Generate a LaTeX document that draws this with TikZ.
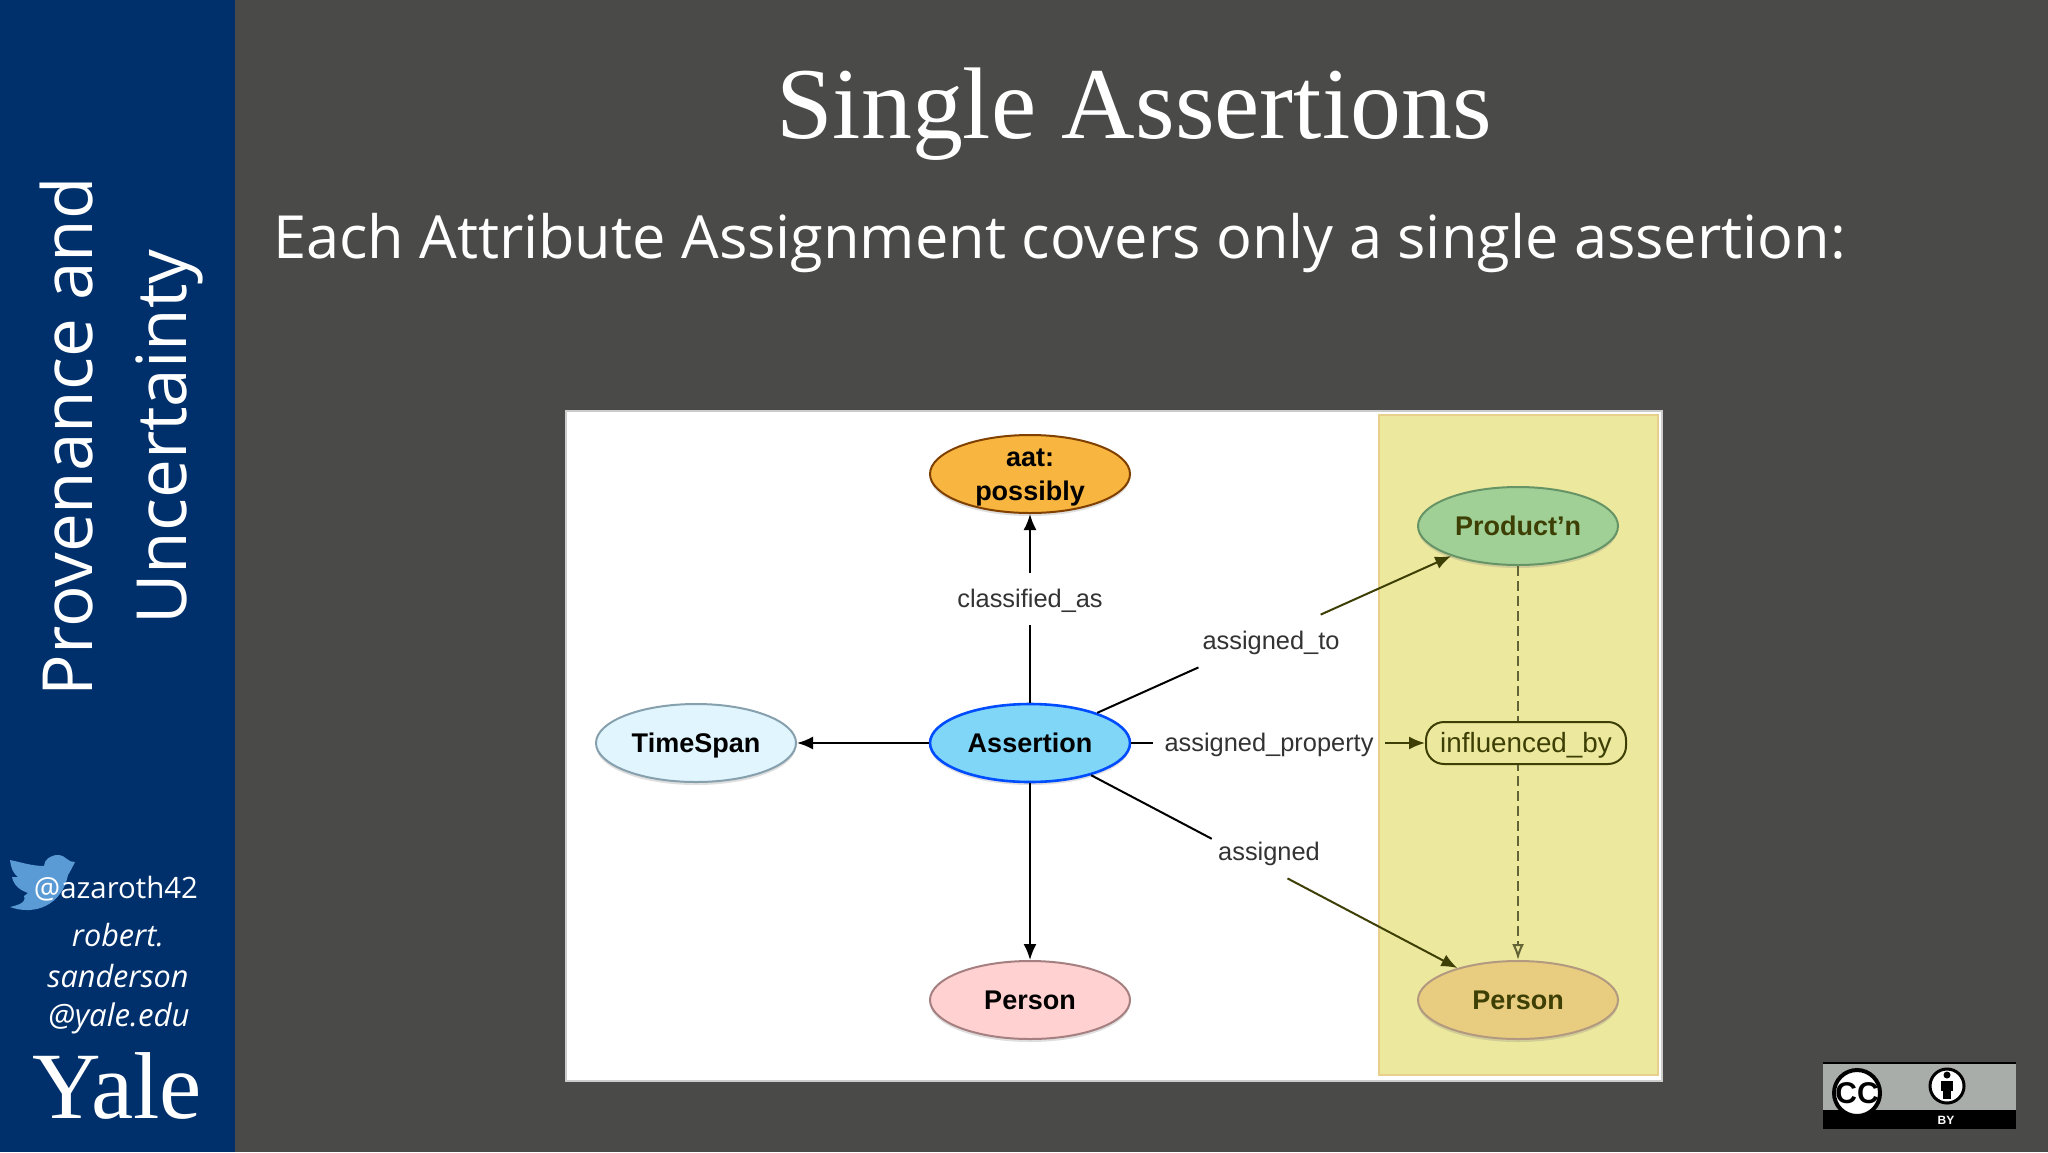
\documentclass[tikz,border=0pt]{standalone}
\usepackage{fontspec}
\usepackage{xcolor}
\usetikzlibrary{shapes.geometric,arrows.meta,shadows}
\setmainfont{Open Sans}
\newfontfamily\titlefont{Liberation Serif}
\newfontfamily\dicofont{Liberation Sans}
\definecolor{slidegrey}{HTML}{4A4B49}
\definecolor{yalenavy}{HTML}{00306B}
\definecolor{birdblue}{HTML}{5B9BD5}
\definecolor{panelyellow}{HTML}{ECE89E}
\definecolor{paneledge}{HTML}{E8CF8C}
\definecolor{oliveink}{HTML}{3D3F05}
\definecolor{aatorange}{HTML}{F8B53F}
\definecolor{prodgreen}{HTML}{A0D096}
\definecolor{persontan}{HTML}{E8CD80}
\definecolor{badgegrey}{HTML}{A9ADA9}
\tikzset{
  ovalbase/.style={ellipse, draw, line width=1pt, minimum width=100pt, minimum height=39pt, inner sep=0pt,
    align=center, font=\dicofont\bfseries\fontsize{13.5}{17}\selectfont, drop shadow={shadow xshift=0pt, shadow yshift=-1.5pt, opacity=.25}},
  oval/.style={ovalbase, text height=9.7pt, text depth=0pt},
  edgelabel/.style={font=\dicofont\fontsize{12.7}{15}\selectfont, text=black!80, text height=8pt, text depth=0pt, inner xsep=3pt, inner ysep=9pt},
  link/.style={line width=1pt, -{Latex[length=8pt, width=6.5pt]}},
  linkolive/.style={link, draw=oliveink, -{Latex[length=8pt, width=6.5pt]}}
}
\begin{document}
\begin{tikzpicture}[x=.5pt, y=-.5pt]
\useasboundingbox (0, 0) rectangle (2048, 1152);
\fill [slidegrey] (0, 0) rectangle (2048, 1152);
\fill [yalenavy] (0, 0) rectangle (235, 1152);
%sidebar
\draw (122, 437) node [rotate=90, align=center, text=white, font=\fontsize{34.6}{47}\selectfont] (sidetitle) {Provenance and\\Uncertainty};
\fill [birdblue] (75, 862) .. controls (68, 863) and (66, 855) .. (58, 855) .. controls (50, 855) and (44, 860) .. (44, 866)
  .. controls (32, 866) and (20, 862) .. (10, 860) .. controls (11, 868) and (13, 873) .. (18, 877) -- (12, 877)
  .. controls (14, 886) and (20, 890) .. (28, 893) -- (24, 896) .. controls (26, 900) and (24, 904) .. (10, 907)
  .. controls (35, 916) and (62, 905) .. (68, 875) .. controls (70, 872) and (73, 866) .. (75, 862) -- cycle;
\draw (116, 889) node [text=white, font=\fontsize{14.7}{18}\selectfont] (twitter) {@azaroth42};
\draw (118, 935) node [text=white, font=\itshape\fontsize{15.3}{18}\selectfont] (mailA) {robert.};
\draw (118, 976) node [text=white, font=\itshape\fontsize{15.3}{18}\selectfont] (mailB) {sanderson};
\draw (119, 1018) node [text=white, font=\itshape\fontsize{15.6}{18}\selectfont] (mailC) {@yale.edu};
\draw (117, 1118) node [anchor=base, text=white, font=\titlefont\fontsize{47.5}{50}\selectfont] (yale) {Yale};
%header
\draw (1134, 114) node [text=white, font=\titlefont\fontsize{50.9}{55}\selectfont] (title) {Single Assertions};
\draw (266, 243) node [anchor=west, text=white, font=\fontsize{29.75}{36}\selectfont] (subtitle) {Each Attribute Assignment covers only a single assertion:};
%figure
\filldraw [fill=white, draw=black!20, line width=1pt] (566, 411) rectangle (1662, 1081);
\filldraw [fill=panelyellow, draw=paneledge, line width=1pt] (1379, 415) rectangle (1658, 1075);
\draw (1030, 474) node [ovalbase, inner sep=-3.5pt, fill=aatorange, draw=black!50!orange] (aat) {\rule{0pt}{12.5pt}aat:\\possibly};
\draw (696, 743) node [oval, fill=cyan!12, draw=cyan!40!black!60] (timespan) {TimeSpan};
\draw (1030, 743) node [oval, fill=cyan!50, draw=blue!70!cyan, line width=1.3pt] (assertion) {Assertion};
\draw (1030, 1000) node [oval, fill=red!18, draw=red!30!black!50] (person) {Person};
\draw (1518, 526) node [oval, fill=prodgreen, draw=green!30!black!60, text=oliveink] (production) {Product’n};
\draw (1518, 1000) node [oval, fill=persontan, draw=orange!40!black!50, text=oliveink] (personB) {Person};
\draw [oliveink!80, line width=1pt, dash pattern=on 5pt off 2.5pt, -{Latex[open, length=8pt, width=6pt]}] (production) -- (personB);
\draw (1526, 743) node [rectangle, rounded corners=9pt, fill=panelyellow, draw=oliveink, line width=1pt, minimum width=100pt, minimum height=21pt, inner sep=0pt, text=oliveink, text height=9pt, text depth=0pt, font=\dicofont\fontsize{13.9}{16}\selectfont] (influenced) {influenced\_by};
\draw (1030, 599) node [edgelabel] (classified) {classified\_as};
\draw (1271, 641) node [edgelabel] (assignedto) {assigned\_to};
\draw (1269, 743) node [edgelabel, inner xsep=5.5pt] (assignedprop) {assigned\_property};
\draw (1269, 852) node [edgelabel] (assigned) {assigned};
\draw [line width=1pt] (assertion) -- (classified);
\draw [link] (classified) -- (aat);
\draw [link] (assertion) -- (timespan);
\draw [link] (assertion) -- (person);
\draw [line width=1pt] (assertion) -- (assignedto.200);
\draw [linkolive] (assignedto.28) -- (production);
\draw [line width=1pt] (assertion) -- (assignedprop);
\draw [linkolive] (assignedprop) -- (influenced);
\draw [line width=1pt] (assertion) -- (assigned.167);
\draw [linkolive] (assigned.-55) -- (personB);
%licence badge
\fill [badgegrey] (1823, 1063) rectangle (2016, 1110);
\draw [black, line width=1pt] (1823, 1063) -- (2016, 1063);
\fill [black] (1823, 1110) rectangle (2016, 1129);
\filldraw [fill=white, draw=black, line width=2pt] (1857, 1093) circle [radius=23];
\draw (1857, 1093) node [font=\dicofont\bfseries\fontsize{15}{15}\selectfont] (ccmark) {CC};
\filldraw [fill=white, draw=black, line width=1.5pt] (1947, 1086) circle [radius=17];
\fill [black] (1947, 1075) circle [radius=3.5];
\fill [black] (1941, 1081) rectangle (1953, 1091);
\fill [black] (1943, 1091) rectangle (1951, 1099);
\draw (1946, 1120) node [text=white, font=\dicofont\bfseries\fontsize{6}{6}\selectfont] (bymark) {BY};
\end{tikzpicture}
\end{document}
